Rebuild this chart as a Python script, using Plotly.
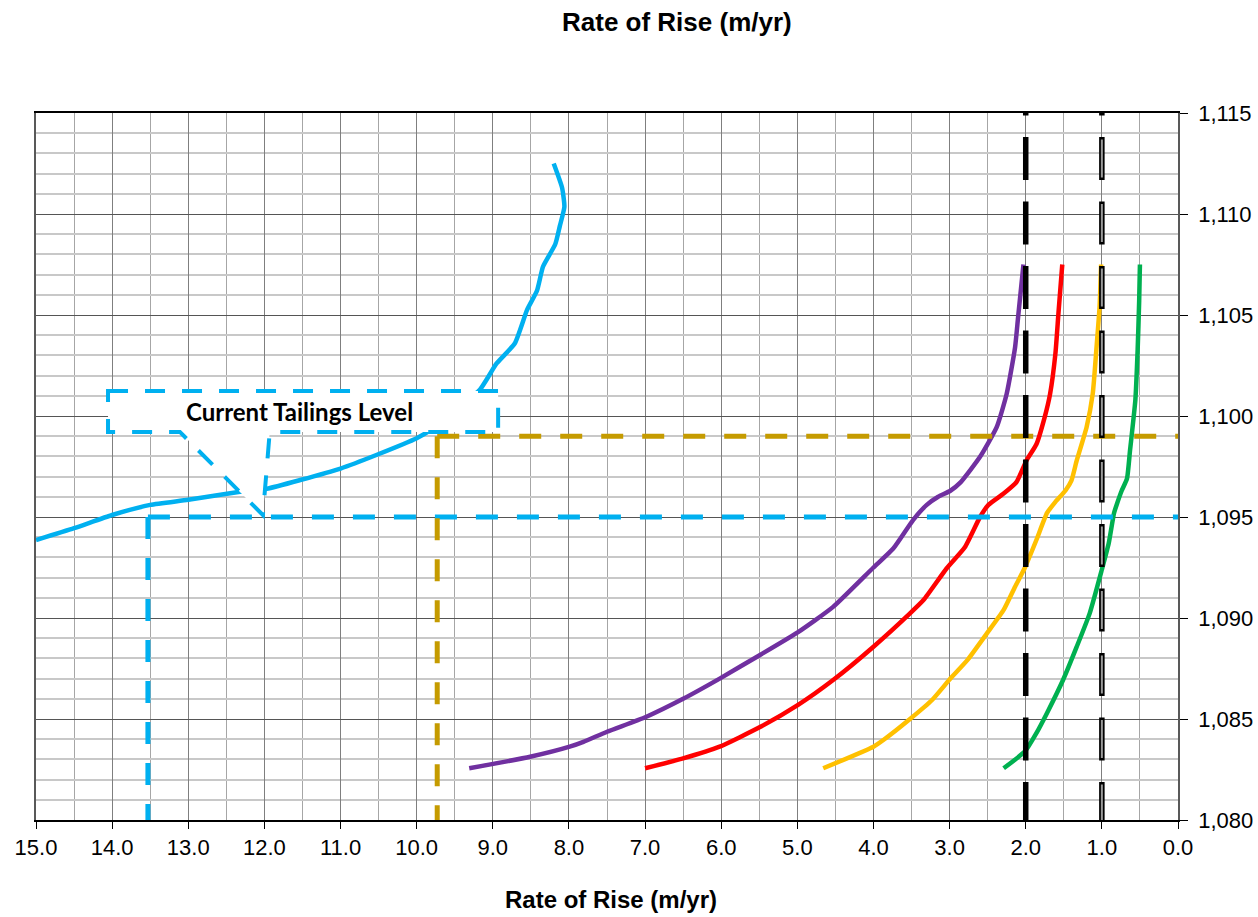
import plotly.graph_objects as go

# ---------------- data ----------------
# Tailings rate-of-rise curve (x = rate of rise m/yr, y = elevation m)
tail_x = [15.0, 14.5, 14.0, 13.5, 13.0, 12.32, 11.97, 11.53, 11.0, 10.53, 10.0, 9.82,
          9.5, 9.17, 8.95, 8.71, 8.55, 8.42, 8.34, 8.18, 8.12, 8.06, 8.09, 8.20]
tail_y = [1093.86, 1094.45, 1095.1, 1095.6, 1095.85, 1096.25, 1096.4, 1096.83, 1097.4, 1098.07, 1098.9, 1099.3,
          1100.3, 1101.3, 1102.6, 1103.6, 1105.25, 1106.2, 1107.4, 1108.5, 1109.4, 1110.35, 1111.3, 1112.5]

purple_x = [9.31, 8.51, 7.99, 7.81, 7.50, 6.99, 6.50, 6.02, 5.49, 4.99, 4.53, 4.0, 3.74, 3.48,
            3.30, 3.15, 2.99, 2.86, 2.60, 2.38, 2.25, 2.14, 2.10, 2.03]
purple_y = [1082.56, 1083.13, 1083.63, 1083.87, 1084.37, 1085.1, 1086.0, 1087.0, 1088.17, 1089.3, 1090.55,
            1092.5, 1093.44, 1094.85, 1095.6, 1096.0, 1096.3, 1096.7, 1097.98, 1099.46, 1101.1, 1103.4,
            1104.9, 1107.5]

red_x = [7.0, 6.50, 6.02, 5.49, 4.99, 4.53, 4.0, 3.52, 3.34, 3.04, 2.80, 2.60, 2.49, 2.29, 2.12,
         1.99, 1.86, 1.75, 1.68, 1.61, 1.57, 1.52]
red_y = [1082.56, 1083.05, 1083.63, 1084.6, 1085.7, 1086.93, 1088.58, 1090.23, 1090.9, 1092.45, 1093.5,
         1095.0, 1095.6, 1096.16, 1096.74, 1097.8, 1098.6, 1099.96, 1101.1, 1103.1, 1105.1, 1107.5]

yellow_x = [4.66, 4.0, 3.87, 3.52, 3.23, 2.99, 2.77, 2.51, 2.29, 2.14, 2.01, 1.86, 1.72, 1.61, 1.48,
            1.40, 1.33, 1.20, 1.12, 1.07, 1.03, 1.01]
yellow_y = [1082.56, 1083.63, 1083.96, 1085.0, 1085.94, 1087.0, 1087.9, 1089.24, 1090.4, 1091.55, 1092.5,
            1093.86, 1095.2, 1095.75, 1096.3, 1096.8, 1097.8, 1099.46, 1101.1, 1103.4, 1105.4, 1107.5]

green_x = [2.29, 2.01, 1.86, 1.72, 1.51, 1.33, 1.16, 1.00, 0.91, 0.84, 0.80, 0.74, 0.67, 0.63,
           0.56, 0.53, 0.51, 0.50]
green_y = [1082.56, 1083.4, 1084.3, 1085.3, 1086.93, 1088.58, 1090.23, 1092.4, 1093.7, 1095.2, 1095.67,
           1096.3, 1096.9, 1098.3, 1100.8, 1103.27, 1105.7, 1107.5]

# Reference levels
current_level = 1095.0          # current tailings elevation
current_rate = 13.53            # rate of rise at current level
target_level = 1099.0
target_rate = 9.73
limit_rate_a = 2.0              # black dashed limit
limit_rate_b = 1.0              # outlined dashed limit

x_range = [15.0, 0.0]
y_range = [1080, 1115]
limit_y = [1117.0, 1080.0]

title_text = "Rate of Rise (m/yr)"
callout_text = "Current Tailings Level"

# callout geometry (data coordinates)
box_x0, box_x1 = 14.054, 8.93
box_y0, box_y1 = 1099.21, 1101.24
ptr_left, ptr_right, ptr_tip_x, ptr_tip_y = 13.11, 11.93, 12.02, 1095.1

CYAN = "#00B0F0"
GOLD = "#C59B00"

fig = go.Figure()

def curve(x, y, color, width=4.5):
    fig.add_trace(go.Scatter(x=x, y=y, mode="lines",
                             line=dict(color=color, width=width, shape="spline", smoothing=0.5),
                             hoverinfo="skip", showlegend=False))

curve(tail_x, tail_y, CYAN)
curve(purple_x, purple_y, "#7030A0")
curve(red_x, red_y, "#FF0000")
curve(yellow_x, yellow_y, "#FFC000")
curve(green_x, green_y, "#00B050")

def dashed(x, y, color, width, dash):
    fig.add_trace(go.Scatter(x=x, y=y, mode="lines",
                             line=dict(color=color, width=width, dash=dash),
                             hoverinfo="skip", showlegend=False))

# current level lines
dashed([current_rate, x_range[1]], [current_level, current_level], CYAN, 5, "22px,19px")
dashed([current_rate, current_rate], [current_level, y_range[0]], CYAN, 5, "22px,19px")
# target level lines
dashed([target_rate, x_range[1]], [target_level, target_level], GOLD, 5, "22px,19px")
dashed([target_rate, target_rate], [target_level, y_range[0]], GOLD, 5, "22px,19px")
# limit lines
dashed([limit_rate_a, limit_rate_a], limit_y, "#000000", 5.5, "43px,21.5px")
dashed([limit_rate_b, limit_rate_b], limit_y, "#000000", 5.5, "43px,21.5px")
dashed([limit_rate_b, limit_rate_b], limit_y, "#9A9A9A", 2, "0px,2.5px,38px,24px")

# callout
path = (f"M {box_x0},{box_y1} L {box_x1},{box_y1} L {box_x1},{box_y0} L {ptr_right},{box_y0} "
        f"L {ptr_tip_x},{ptr_tip_y} L {ptr_left},{box_y0} L {box_x0},{box_y0} Z")
fig.add_shape(type="path", path=path, xref="x", yref="y", layer="above",
              fillcolor="white", line=dict(color=CYAN, width=4, dash="20px,17px"))
fig.add_annotation(x=(box_x0 + box_x1) / 2 + 0.05, y=(box_y0 + box_y1) / 2, xref="x", yref="y",
                   text=f"<b>{callout_text}</b>", showarrow=False,
                   font=dict(family="Lato", size=24, color="black"))

# titles
fig.add_annotation(x=0.5613, y=1.1287, xref="paper", yref="paper", text=f"<b>{title_text}</b>",
                   showarrow=False, xanchor="center", yanchor="middle",
                   font=dict(family="Liberation Sans", size=26, color="black"))
fig.add_annotation(x=0.5035, y=-0.113, xref="paper", yref="paper", text=f"<b>{title_text}</b>",
                   showarrow=False, xanchor="center", yanchor="middle",
                   font=dict(family="Liberation Sans", size=24, color="black"))

fig.update_layout(
    width=1258, height=917,
    margin=dict(l=36, r=80, t=113, b=97),
    paper_bgcolor="white", plot_bgcolor="white",
    showlegend=False,
    xaxis=dict(range=x_range, tick0=0, dtick=1, tickformat=".1f",
               showgrid=True, gridcolor="#7F7F7F", gridwidth=1,
               minor=dict(dtick=0.5, showgrid=True, gridcolor="#A6A6A6", gridwidth=1),
               ticks="outside", ticklen=7, tickcolor="black", tickwidth=1,
               showline=True, linecolor="black", linewidth=1.5, mirror=True,
               zeroline=False, automargin=False,
               tickfont=dict(family="Liberation Sans", size=22, color="black")),
    yaxis=dict(range=y_range, side="right", tick0=1080, dtick=5, tickformat=",d",
               showgrid=True, gridcolor="#555555", gridwidth=1,
               minor=dict(dtick=1, showgrid=True, gridcolor="#C8C8C8", gridwidth=1.5),
               ticks="outside", ticklen=8, tickcolor="black", tickwidth=1,
               showline=True, linecolor="#595959", linewidth=1.5, mirror=True,
               zeroline=False, ticklabelstandoff=6, automargin=False,
               tickfont=dict(family="Liberation Sans", size=22, color="black")),
)

fig.write_html("out.html")
